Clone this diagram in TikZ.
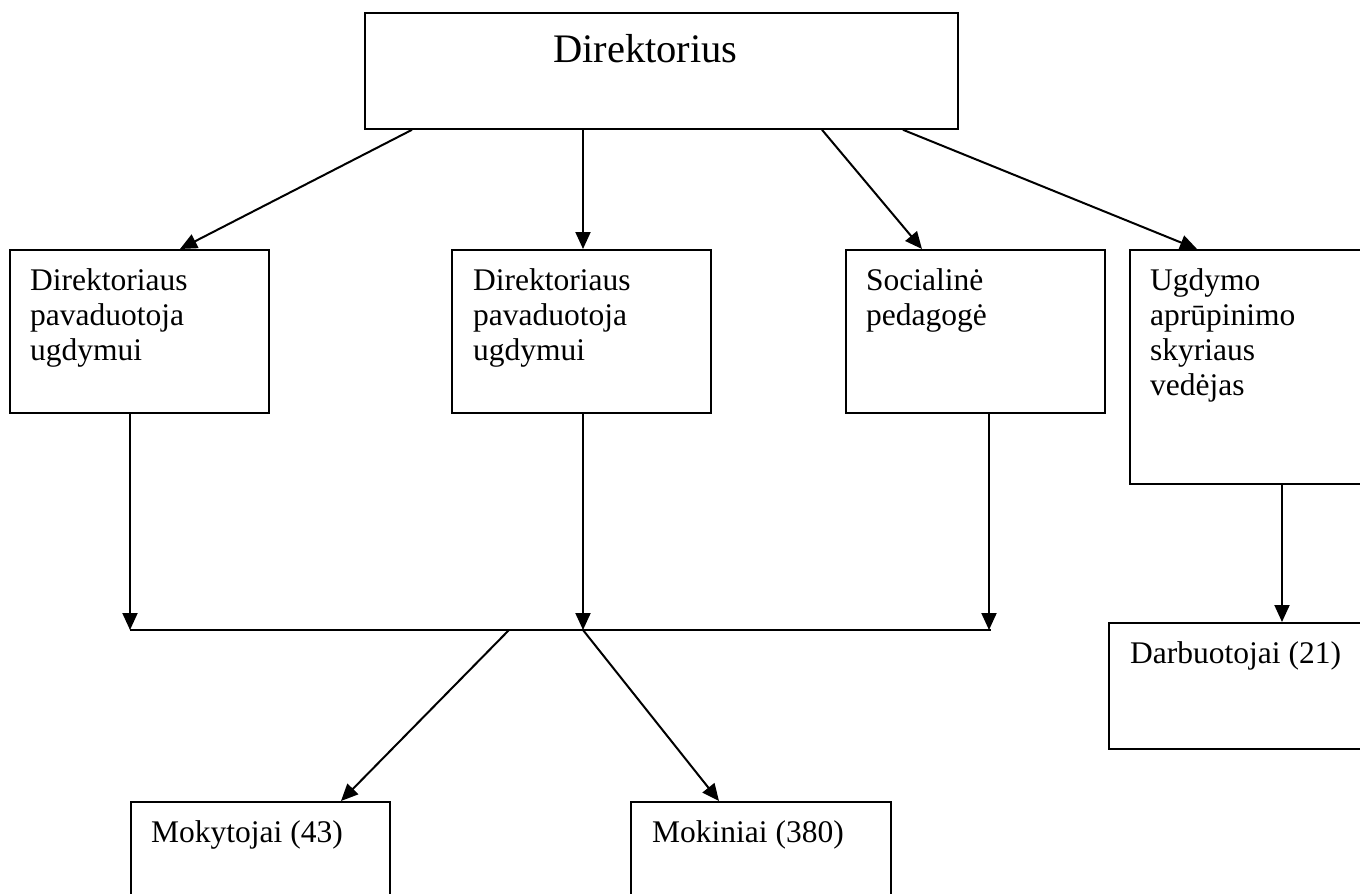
\documentclass[tikz,border=0pt]{standalone}
\usepackage{fontspec}
\setmainfont{Liberation Serif}
\usetikzlibrary{arrows.meta}
\begin{document}
\begin{tikzpicture}[x=1pt,y=-1pt,
  box/.style={draw=black,line width=1.8pt,rectangle,inner sep=0pt,anchor=north west},
  lbl/.style={inner sep=0pt,anchor=base west,align=left,font=\fontsize{31.5}{35}\selectfont},
  conn/.style={line width=2pt},
  arr/.style={conn,-{Triangle[length=17pt,width=15pt]}}]
\useasboundingbox (0,0) rectangle (1360,894);
\clip (0,0) rectangle (1360,894);
% boxes
\node[box,minimum width=593pt,minimum height=116pt] (dir) at (364,12) {};
\node[box,minimum width=259pt,minimum height=163pt] (b1) at (9,249) {};
\node[box,minimum width=259pt,minimum height=163pt] (b2) at (451,249) {};
\node[box,minimum width=259pt,minimum height=163pt] (b3) at (845,249) {};
\node[box,minimum width=260pt,minimum height=234pt] (b4) at (1129,249) {};
\node[box,minimum width=280pt,minimum height=126pt] (b5) at (1108,622) {};
\node[box,minimum width=259pt,minimum height=130pt] (b6) at (130,801) {};
\node[box,minimum width=260pt,minimum height=130pt] (b7) at (630,801) {};
% labels (base = baseline of last line)
\node[lbl,font=\fontsize{40.5}{46}\selectfont] (tdir) at (553,62) {Direktorius};
\node[lbl] (t1) at (30,360) {Direktoriaus\\pavaduotoja\\ugdymui};
\node[lbl] (t2) at (473,360) {Direktoriaus\\pavaduotoja\\ugdymui};
\node[lbl] (t3) at (866,325) {Socialinė\\pedagogė};
\node[lbl] (t4) at (1150,395) {Ugdymo\\aprūpinimo\\skyriaus\\vedėjas};
\node[lbl] (t5) at (1130,663) {Darbuotojai (21)};
\node[lbl] (t6) at (151,842) {Mokytojai (43)};
\node[lbl] (t7) at (652,842) {Mokiniai (380)};
% junction line
\coordinate (jl) at (130,630);
\coordinate (jr) at (991,630);
\coordinate (jm) at (583,630);
\coordinate (jd) at (509,630);
\coordinate (j1) at (130,630);
\coordinate (j3) at (989,630);
\draw[conn] (jl) -- (jr);
% arrows from director
\draw[arr] ([xshift=48pt]dir.south west) -- ([xshift=171pt]b1.north west);
\draw[arr] ([xshift=219pt]dir.south west) -- ([xshift=132pt]b2.north west);
\draw[arr] ([xshift=458pt]dir.south west) -- ([xshift=77pt]b3.north west);
\draw[arr] ([xshift=539pt]dir.south west) -- ([xshift=68pt]b4.north west);
% down to junction
\draw[arr] ([xshift=121pt]b1.south west) -- (j1);
\draw[arr] ([xshift=132pt]b2.south west) -- (jm);
\draw[arr] ([xshift=144pt]b3.south west) -- (j3);
% to bottom boxes
\draw[arr] (jd) -- ([xshift=211pt]b6.north west);
\draw[arr] (jm) -- ([xshift=89pt]b7.north west);
% right column
\draw[arr] ([xshift=153pt]b4.south west) -- ([xshift=174pt]b5.north west);
\end{tikzpicture}
\end{document}
